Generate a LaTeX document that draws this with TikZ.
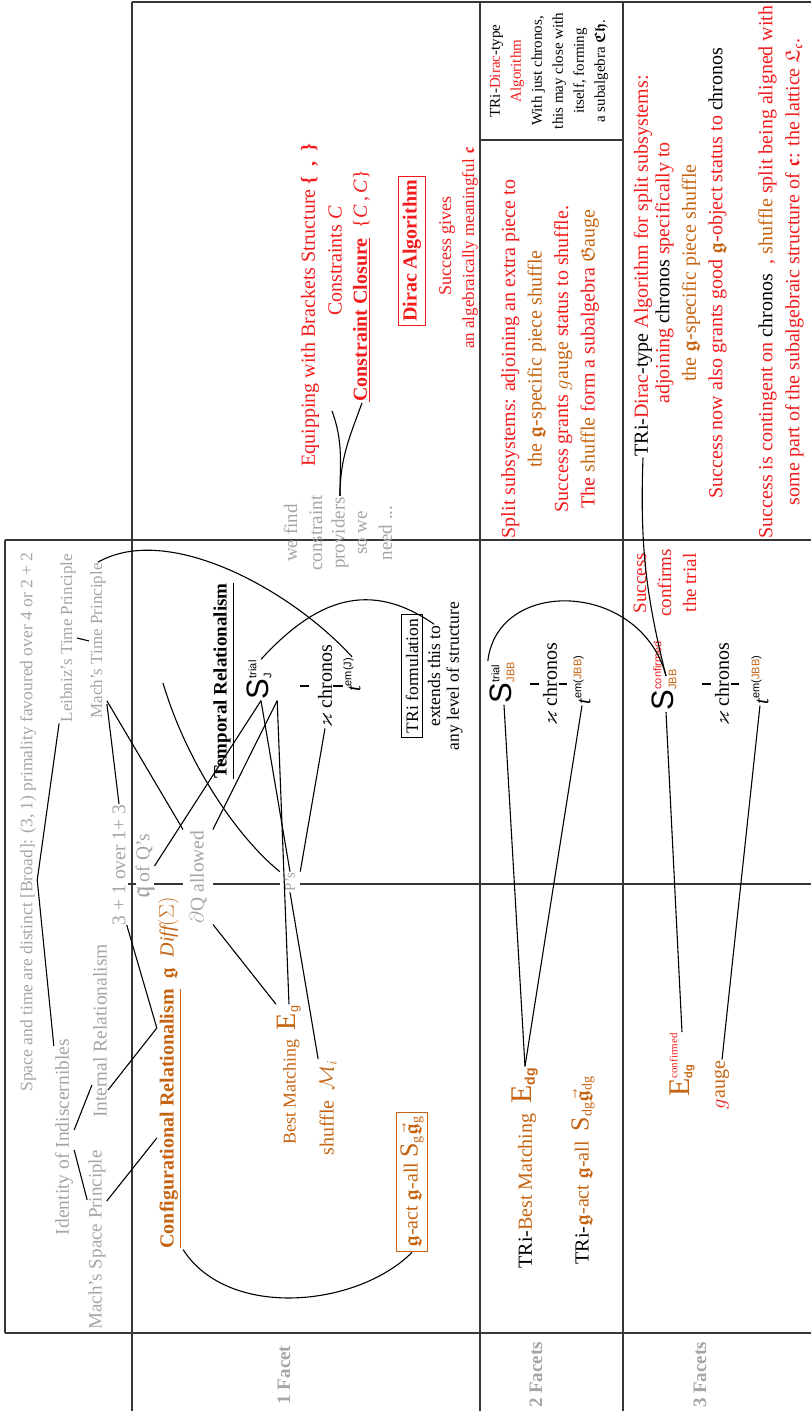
\documentclass[tikz,border=0pt]{standalone}
\usepackage{amsmath,amssymb}
\usepackage{fontspec}
\setmainfont{Liberation Serif}
\setsansfont{Liberation Sans}
\usetikzlibrary{positioning, calc}
\definecolor{Ochre}{RGB}{196,100,18}
\definecolor{AlarmRed}{RGB}{242,28,28}
\definecolor{FadedGray}{RGB}{165,165,165}
\definecolor{RuleGray}{RGB}{55,55,55}

\newcommand{\fsz}[2]{\fontsize{#1}{#2}\selectfont}
\newcommand{\slab}[2]{{\sffamily\fsz{31}{31}S}\hspace{0.5pt}\raisebox{-3pt}{\sffamily\fsz{11}{15}\begin{tabular}[b]{@{}l@{}}#1\\#2\end{tabular}}}
\newcommand{\tlab}[1]{{\itshape\fsz{21}{21}t}\raisebox{9pt}{\sffamily\fsz{11}{11}#1}}
\newcommand{\frk}[1]{$\mathfrak{#1}$}
\newcommand{\bfrk}[1]{$\boldsymbol{\mathfrak{#1}}$}

\begin{document}
\begin{tikzpicture}[x=1pt, y=1pt, rotate=90, transform shape,
    every node/.style={inner sep=1pt},
    ghosttxt/.style={text=FadedGray, font=\fsz{19.5}{23}},
    redtxt/.style={text=AlarmRed, font=\fsz{20}{24}},
    ochretxt/.style={text=Ochre, font=\fsz{20}{24}},
    inktxt/.style={text=black, font=\fsz{20}{24}},
    boxed/.style={draw, line width=1pt, inner sep=4pt},
    blank/.style={fill=white},
    gridline/.style={RuleGray, line width=1.6pt},
    link/.style={black, line width=1.1pt},
  ]
  \useasboundingbox (0,0) rectangle (1411,811);

  % table
  \draw[gridline] (78,806) -- (871,806);
  \draw[gridline] (78,0) -- (78,806);
  \draw[gridline] (871,0) -- (871,806);
  \draw[gridline] (0,679) -- (1409,679);
  \draw[gridline] (1409,0) -- (1409,679);
  \draw[gridline] (0,331) -- (1409,331);
  \draw[gridline] (0,188) -- (1409,188);
  \draw[gridline] (527,0) -- (527,683);
  \draw[gridline] (1271,188) -- (1271,331);

  % row labels
  \node[ghosttxt, font=\bfseries\fsz{19}{22}] (f1) at (36,527) {1 Facet};
  \node[ghosttxt, font=\bfseries\fsz{19}{22}] (f2) at (36,275) {2 Facets};
  \node[ghosttxt, font=\bfseries\fsz{19}{22}] (f3) at (36,111) {3 Facets};

  % header
  \node[ghosttxt, font=\fsz{17.5}{21}] (space) at (589,783) {Space and time are distinct [Broad]: (3, 1) primality favoured over 4 or 2 + 2};
  \node[ghosttxt, font=\fsz{17}{20}] (leib) at (773,743) {Leibniz's Time Principle};
  \node[ghosttxt, font=\fsz{17}{20}] (macht) at (770,713) {Mach's Time Principle};
  \node[ghosttxt] (three) at (546,692) {3 + 1 over 1+ 3};
  \node[ghosttxt] (ident) at (274,747) {Identity of Indiscernibles};
  \node[ghosttxt] (intrel) at (380,711) {Internal Relationalism};
  \node[ghosttxt, font=\fsz{19}{22}] (machs) at (171,714) {Mach's Space Principle};

  % 1 facet
  \node[ochretxt] (cfg) at (338,641) {\underline{\textbf{Configurational Relationalism}}\enspace\bfrk{g}\enspace$\mathit{Diff}(\Sigma)$};
  \node[ochretxt, font=\fsz{18}{22}] (bm) at (336,522) {Best Matching\enspace{\fsz{28}{28}E}\textsubscript{\sffamily g}};
  \node[ochretxt] (shuf) at (303,483) {shuffle\enspace$\mathcal{M}_i$};
  \node[ochretxt, boxed, draw=Ochre] (gact) at (229,399) {\bfrk{g}-act \bfrk{g}-all {\fsz{26}{26}S}\textsubscript{g}$\vec{\boldsymbol{\mathfrak g}}$\textsubscript{g}};
  \node[ghosttxt, blank, inner ysep=0pt] (qq) at (545,666) {{\fsz{26}{26}\frk{q}}\,of Q's};
  \node[ghosttxt, blank, inner ysep=6pt] (dq) at (534,613) {$\partial$Q allowed};
  \node[ghosttxt, blank, font=\fsz{15}{17}, inner ysep=5pt] (ps) at (529,521) {P's};
  \node[inktxt, font=\bfseries\fsz{19}{23}] (temp) at (730,587) {\underline{Temporal Relationalism}};
  \node[inktxt] (s1) at (731,550) {\slab{trial}{J}};
  \node[inktxt] (c1) at (725,486) {$\varkappa$ chronos};
  \node[inktxt] (t1) at (736,459) {\tlab{em(J)}};
  \node[inktxt, boxed, font=\fsz{17.5}{21}] (trf) at (735,399) {TRi formulation};
  \node[inktxt, font=\fsz{17.5}{21}, below=4pt of trf] (ext) {extends this to};
  \node[inktxt, font=\fsz{17.5}{21}, below=4pt of ext] (lvl) {any level of structure};
  \node[ghosttxt, align=center, font=\fsz{19}{25}] (find) at (878,508) {we find\\constraint};
  \node[ghosttxt, font=\fsz{19}{25}] (prov) at (878,471) {providers};
  \node[ghosttxt, align=center, font=\fsz{19}{25}] (need) at (878,436) {so we\\need ...};
  \node[redtxt] (equip) at (1106,501) {Equipping with Brackets Structure \textbf{\{\enspace,\enspace\}}};
  \node[redtxt] (constr) at (1150,476) {Constraints \textit{C}};
  \node[redtxt] (closure) at (1125,449) {\textbf{\underline{Constraint Closure}}\enspace\{\textit{C}\,,\,\textit{C}\}};
  \node[redtxt, boxed, draw=AlarmRed, font=\bfseries\fsz{20}{24}] (dirac) at (1160,399) {Dirac Algorithm};
  \node[redtxt, font=\fsz{18}{22}] (sgive) at (1165,364) {Success gives};
  \node[redtxt, font=\fsz{17}{20}] (alg) at (1163,341) {an algebraically meaningful \bfrk{c}};

  % 2 facets
  \node[inktxt, align=center, font=\fsz{15}{21}] (trd) at (1340,262) {TRi-{\color{AlarmRed}Dirac}-type\\{\color{AlarmRed}Algorithm}\\With just chronos,\\this may close with\\itself, forming\\a subalgebra \bfrk{Ch}.};
  \node[redtxt, align=center, font=\fsz{20}{26.5}] (split) at (1052,261) {Split subsystems: adjoining an extra piece to\\{\color{Ochre}the \bfrk{g}-specific piece shuffle}\\Success grants {\color{Ochre}$g$auge} status to shuffle.\\The {\color{Ochre}shuffle} form a subalgebra {\color{Ochre}\frk{G}auge}};
  \node[inktxt] (s2) at (728,307) {\slab{trial}{\color{Ochre}JBB}};
  \node[inktxt] (c2) at (727,261) {$\varkappa$ chronos};
  \node[inktxt] (t2) at (731,229) {\tlab{em({\color{Ochre}JBB})}};
  \node[inktxt] (bm2) at (243,286) {TRi-{\color{Ochre}Best Matching\enspace{\fsz{30}{30}E}\textsubscript{\sffamily\bfseries dg}}};
  \node[inktxt] (gact2) at (241,228) {TRi-{\color{Ochre}\bfrk{g}-act \bfrk{g}-all\enspace{\fsz{26}{26}S}\textsubscript{dg}$\vec{\boldsymbol{\mathfrak g}}$\textsubscript{dg}}};

  % 3 facets
  \node[inktxt] (s3) at (735,145) {\slab{\color{AlarmRed}confirmed}{\color{Ochre}JBB}};
  \node[inktxt] (c3) at (727,89) {$\varkappa$ chronos};
  \node[inktxt] (t3) at (731,51) {\tlab{em({\color{Ochre}JBB})}};
  \node[redtxt, align=center, font=\fsz{19}{25}] (succ) at (828,146) {Success\\confirms\\the trial};
  \node[ochretxt] (e3) at (346,129) {{\fsz{30}{30}E}\raisebox{-3pt}{\fsz{11}{15}\begin{tabular}[b]{@{}l@{}}\color{AlarmRed}confirmed\\\sffamily\bfseries dg\end{tabular}}};
  \node[ochretxt] (gauge) at (326,89) {{\color{AlarmRed}$g$}auge};
  \node[redtxt] (r3a) at (1145,168) {{\color{black}TRi-}Dirac{\color{black}-type} Algorithm for split subsystems:};
  \node[redtxt, align=center, font=\fsz{20}{26.5}] (r3b) at (1138,120) {adjoining {\color{black}chronos} specifically to\\{\color{Ochre}the \bfrk{g}-specific piece shuffle}\\Success now also grants good {\color{Ochre}\bfrk{g}}-object status to {\color{black}chronos}};
  \node[redtxt, align=center, font=\fsz{20}{27}] (r3c) at (1139,30) {Success is contingent on {\color{black}chronos}\enspace, {\color{Ochre}shuffle} split being aligned with\\some part of the subalgebraic structure of \bfrk{c}: the lattice $\mathfrak{L}_{\mathfrak c}$.};

  % header links
  \draw[link] ($(ident.north east)+(-8,0)$) -- ($(space.south)+(-58,0)$) -- (leib.north west);
  \draw[link] ($(ident.south)+(-13,0)$) -- ($(machs.north)+(40,0)$);
  \draw[link] ($(ident.south)+(7,0)$) -- ($(intrel.north)+(-54,0)$);
  \draw[link] ($(machs.south)+(39,0)$) -- ($(cfg.north)+(-65,0)$);
  \draw[link] ($(intrel.south)+(-59,0)$) -- ($(cfg.north)+(45,0)$);
  \draw[link] ($(three.south)+(-60,0)$) -- ($(cfg.north)+(45,0)$);
  \draw[link] (macht.north) -- (leib.south);
  \draw[link] ($(macht.south west)+(16,0)$) -- (three.east);
  \draw[link] ($(macht.south west)+(19,0)$) -- (dq.north east);
  \coordinate (pstail) at (728,648);
  \draw[link] (pstail) .. controls (650,625) and (575,575) .. (ps.north east);
  \draw[link] (macht.east) .. controls +(40,-70) and +(67,61) .. (t1.east);

  % 1 facet links
  \draw[link] (s1.west) -- (qq.south);
  \draw[link] (s1.south west) -- (dq.south east);
  \draw[link] (s1.west) -- (ps.east);
  \draw[link] (s1.south west) -- (bm.east);
  \draw[link] (c1.west) -- (ps.south east);
  \draw[link] (ps.west) -- (shuf.north east);
  \draw[link] (dq.south west) -- (bm.north east);
  \draw[link] (cfg.south west) .. controls +(-70,-45) and +(-55,55) .. (gact.west);
  \draw[link] (s1.east) .. controls +(60,-55) and +(45,65) .. (ext.east);
  \draw[link] ($(c1.north)+(0,8)$) -- ++(0,9);
  \draw[link] (c1.south) -- ++(0,-10);
  \draw[link] (prov.east) to[out=0, in=200] ($(closure.west)+(-8,30)$);
  \draw[link] (prov.east) to[out=0, in=160] (closure.west);

  % 2 and 3 facets links
  \draw[link] (bm2.east) -- (s2.west);
  \draw[link] (bm2.east) -- (t2.west);
  \draw[link] ($(c2.north)+(0,3)$) -- ++(0,9);
  \draw[link] ($(c2.south)+(0,-1)$) -- ++(0,-8);
  \draw[link] (s2.north east) .. controls +(85,-10) and +(95,25) .. (s3.center);
  \draw[link] (s3.center) to[bend left=8] (r3a.west);
  \draw[link] ($(c3.north)+(0,3)$) -- ++(0,9);
  \draw[link] ($(c3.south)+(0,-1)$) -- ++(0,-8);
  \draw[link] (e3.east) -- (s3.west);
  \draw[link] (gauge.east) -- (t3.west);
\end{tikzpicture}
\end{document}
